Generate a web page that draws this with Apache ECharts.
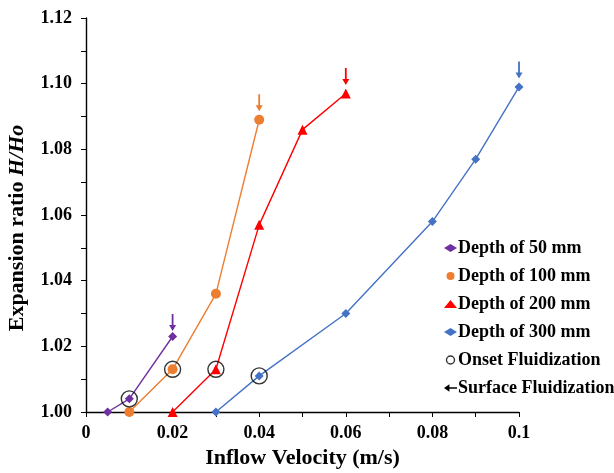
<!DOCTYPE html>
<html>
<head>
<meta charset="utf-8">
<script src="https://cdn.jsdelivr.net/npm/echarts@6/dist/echarts.min.js"></script>
<style>html,body{margin:0;padding:0;background:#fff;}#c{width:614px;height:473px;}</style>
</head>
<body>
<div id="c"></div>
<script>
// ---- data ----
var d50x = [0.005, 0.01, 0.02];
var d50y = [1.000, 1.004, 1.023];
var d100x = [0.01, 0.02, 0.03, 0.04];
var d100y = [1.000, 1.013, 1.036, 1.089];
var d200x = [0.02, 0.03, 0.04, 0.05, 0.06];
var d200y = [1.000, 1.013, 1.057, 1.086, 1.097];
var d300x = [0.03, 0.04, 0.06, 0.08, 0.09, 0.10];
var d300y = [1.000, 1.011, 1.030, 1.058, 1.077, 1.099];
var onsetX = [0.01, 0.02, 0.03, 0.04];
var onsetY = [1.004, 1.013, 1.013, 1.011];
var seriesNames = ['Depth of 50 mm', 'Depth of 100 mm', 'Depth of 200 mm', 'Depth of 300 mm', 'Onset Fluidization', 'Surface Fluidization'];

function pairs(xs, ys) { return xs.map(function (x, i) { return [x, ys[i]]; }); }

var FONT = '"Liberation Serif", "Times New Roman", serif';
var arrowPath = 'path://M2.6,0 L4.4,0 L4.4,11 L7,11 L3.5,17 L0,11 L2.6,11 Z';
var leftArrow = 'path://M0,4 L5,0.5 L5,3.2 L12,3.2 L12,4.8 L5,4.8 L5,7.5 Z';

function arrowMark(xs, ys, color, off) {
  var n = xs.length - 1;
  return {
    symbol: arrowPath, symbolSize: [7, 17], symbolKeepAspect: false,
    symbolOffset: [0, off], silent: true,
    itemStyle: { color: color },
    label: { show: false },
    data: [{ coord: [xs[n], ys[n]] }]
  };
}

function lineSeries(name, xs, ys, color, symbol, size, off) {
  return {
    name: name, type: 'line', data: pairs(xs, ys),
    symbol: symbol, symbolSize: size, showSymbol: true,
    lineStyle: { color: color, width: 1.4 },
    itemStyle: { color: color },
    emphasis: { disabled: true },
    markPoint: arrowMark(xs, ys, color, off),
    animation: false
  };
}

var chart = echarts.init(document.getElementById('c'), null, { renderer: 'canvas' });
var option = {
  animation: false,
  backgroundColor: '#fff',
  grid: { left: 86, right: 95, top: 18, bottom: 61, containLabel: false, outerBoundsMode: 'none' },
  legend: {
    orient: 'vertical', left: 439, top: 234,
    itemWidth: 13, itemHeight: 8, itemGap: 10,
    textStyle: { fontFamily: FONT, fontWeight: 'bold', fontSize: 18, color: '#000', padding: [0, 0, 0, -4] },
    data: [
      { name: seriesNames[0], icon: 'diamond', itemStyle: { color: '#7030a0' } },
      { name: seriesNames[1], icon: 'circle', itemStyle: { color: '#ed7d31' } },
      { name: seriesNames[2], icon: 'triangle', itemStyle: { color: '#ff0000' } },
      { name: seriesNames[3], icon: 'diamond', itemStyle: { color: '#4472c4' } },
      { name: seriesNames[4], icon: 'circle', itemStyle: { color: 'rgba(0,0,0,0)', borderColor: '#000', borderWidth: 1.4 } },
      { name: seriesNames[5], icon: leftArrow, itemStyle: { color: '#000' } }
    ]
  },
  xAxis: {
    type: 'value', min: 0, max: 0.1, interval: 0.02,
    name: 'Inflow Velocity (m/s)', nameLocation: 'middle', nameGap: 31,
    nameTextStyle: { fontFamily: FONT, fontWeight: 'bold', fontSize: 22, color: '#000' },
    axisLine: { show: true, onZero: false, lineStyle: { color: '#000', width: 1.4 } },
    axisTick: { show: true, length: 5, lineStyle: { color: '#000' } },
    minorTick: { show: true, splitNumber: 2, length: 5, lineStyle: { color: '#000' } },
    splitLine: { show: false },
    axisLabel: { fontFamily: FONT, fontWeight: 'bold', fontSize: 18, color: '#000', margin: 12,
      formatter: function (v) { return v === 0 ? '0' : String(+v.toFixed(2)); } }
  },
  yAxis: {
    type: 'value', min: 1.00, max: 1.12, interval: 0.02,
    name: 'Expansion ratio {i|H/Ho}', nameLocation: 'middle', nameGap: 58,
    nameTextStyle: { fontFamily: FONT, fontWeight: 'bold', fontSize: 22, color: '#000', padding: [0, 26, 0, 0],
      rich: { i: { fontFamily: FONT, fontWeight: 'bold', fontStyle: 'italic', fontSize: 22, color: '#000' } } },
    axisLine: { show: true, onZero: false, lineStyle: { color: '#000', width: 1.4 } },
    axisTick: { show: true, length: 5, lineStyle: { color: '#000' } },
    minorTick: { show: true, splitNumber: 2, length: 5, lineStyle: { color: '#000' } },
    splitLine: { show: false },
    axisLabel: { fontFamily: FONT, fontWeight: 'bold', fontSize: 18, color: '#000', margin: 14,
      formatter: function (v) { return v.toFixed(2); } }
  },
  series: [
    lineSeries(seriesNames[0], d50x, d50y, '#7030a0', 'diamond', 9, -14),
    lineSeries(seriesNames[1], d100x, d100y, '#ed7d31', 'circle', 10, -17),
    lineSeries(seriesNames[2], d200x, d200y, '#ff0000', 'triangle', 10, -17),
    lineSeries(seriesNames[3], d300x, d300y, '#4472c4', 'diamond', 9, -17),
    {
      name: seriesNames[4], type: 'scatter', data: pairs(onsetX, onsetY),
      symbol: 'circle', symbolSize: 16, z: 5,
      itemStyle: { color: 'rgba(0,0,0,0)', borderColor: '#000', borderWidth: 1.4 },
      emphasis: { disabled: true }
    },
    { name: seriesNames[5], type: 'line', data: [], itemStyle: { color: '#000' } }
  ]
};
chart.setOption(option);
</script>
</body>
</html>
